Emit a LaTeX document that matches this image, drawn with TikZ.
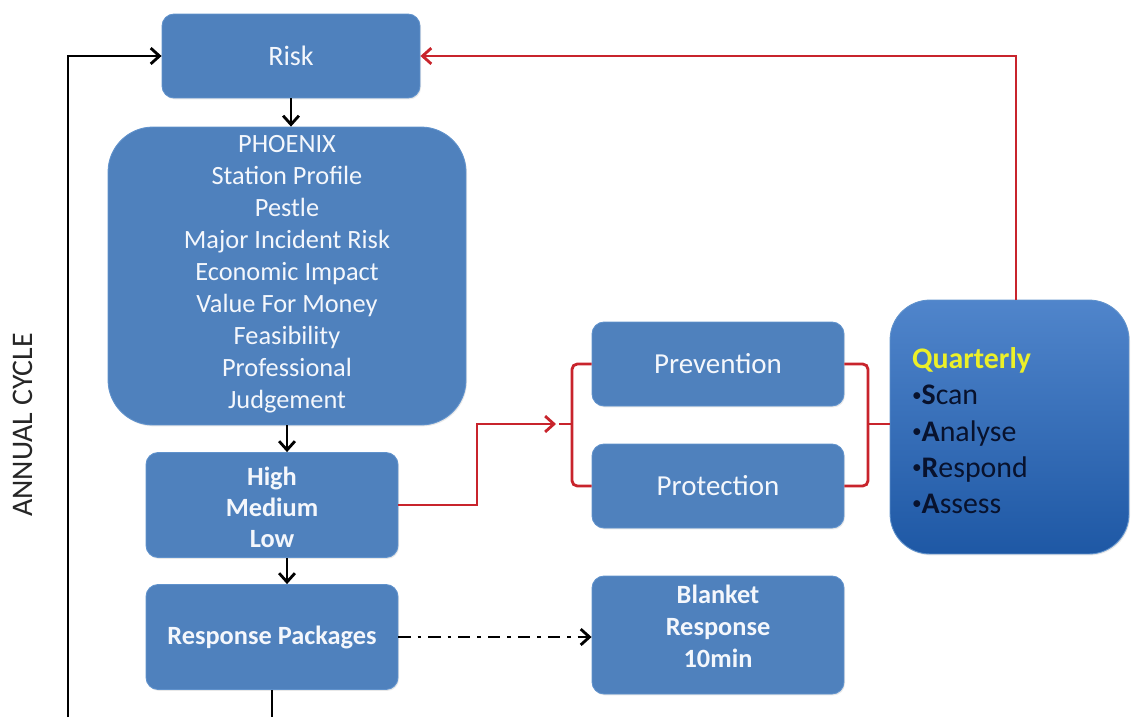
\documentclass[tikz,border=0pt]{standalone}
\usepackage{fontspec}
\setmainfont{Carlito}
\usetikzlibrary{arrows.meta,shadows,positioning}
\definecolor{boxblue}{RGB}{79,129,189}
\definecolor{boxedge}{RGB}{96,146,204}
\definecolor{redline}{RGB}{200,36,44}
\definecolor{qtop}{RGB}{80,133,203}
\definecolor{qbot}{RGB}{30,88,165}
\definecolor{qyellow}{RGB}{236,240,40}
\definecolor{qtext}{RGB}{8,18,45}
\definecolor{boxtext}{RGB}{244,247,252}
\newcommand{\qbul}{\raisebox{0.12em}{\fontsize{11}{11}\selectfont\textbullet}}
\tikzset{
  bluebox/.style={draw=boxedge, line width=0.5pt, fill=boxblue, rounded corners=0.24cm,
    text=boxtext, align=center, inner sep=0pt,
    drop shadow={opacity=0.18, shadow xshift=0.6pt, shadow yshift=-0.8pt}},
  blk/.style={black, line width=1.6pt, -{Straight Barb[length=5pt,width=9pt]}},
  redl/.style={redline, line width=1.6pt},
  reda/.style={redline, line width=1.6pt, -{Straight Barb[length=5pt,width=9pt]}},
}
\begin{document}
\begin{tikzpicture}[x=0.02cm,y=-0.02cm]
\useasboundingbox (0,0) rectangle (1131,717);

\node[bluebox, minimum width=5.16cm, minimum height=1.68cm, font=\fontsize{16}{19}\selectfont] (risk) at (291,56) {Risk};

\node[bluebox, rounded corners=0.9cm, minimum width=7.16cm, minimum height=5.96cm, font=\fontsize{15}{18.2}\selectfont] (phoenix) at (287,276)
 {PHOENIX\\Station Profile\\Pestle\\Major Incident Risk\\Economic Impact\\Value For Money\\Feasibility\\Professional\\Judgement\\[-14pt]\mbox{}};

\node[bluebox, minimum width=5.04cm, minimum height=2.1cm, font=\bfseries\fontsize{15}{17.6}\selectfont] (hml) at (272,505) {High\\Medium\\Low\\[-20pt]\mbox{}};

\node[bluebox, minimum width=5.04cm, minimum height=2.1cm, font=\bfseries\fontsize{15}{18}\selectfont] (resp) at (272,637) {Response Packages};

\node[bluebox, minimum width=5.04cm, minimum height=1.68cm, font=\fontsize{16.5}{19}\selectfont] (prev) at (718,364) {Prevention};

\node[bluebox, minimum width=5.04cm, minimum height=1.68cm, font=\fontsize{16.5}{19}\selectfont] (prot) at (718,486) {Protection};

\node[bluebox, minimum width=5.04cm, minimum height=2.36cm, font=\bfseries\fontsize{15}{18}\selectfont] (blanket) at (718,635) {Blanket\\Response\\10min\\[-8pt]\mbox{}};

\node[draw=boxedge, line width=0.5pt, rounded corners=0.8cm, top color=qtop, bottom color=qbot,
  minimum width=4.78cm, minimum height=5.08cm, inner sep=0pt, text width=3.9cm, align=left,
  text=qtext, font=\fontsize{17}{20.5}\selectfont,
  drop shadow={opacity=0.18, shadow xshift=0.6pt, shadow yshift=-0.8pt}] (quart) at (1009.5,427)
 {\textcolor{qyellow}{\bfseries Quarterly}\\
  \qbul\textbf{S}can\\
  \qbul\textbf{A}nalyse\\
  \qbul\textbf{R}espond\\
  \qbul\textbf{A}ssess\\[-24.5pt]\mbox{}};

\node[rotate=90, font=\fontsize{17}{20}\selectfont, text=black!85] (annual) at (23,425) {ANNUAL CYCLE};

% black connectors
\draw[blk] (risk.south) -- (risk.south |- phoenix.north);
\draw[blk] (phoenix.south) -- (phoenix.south |- hml.north);
\draw[blk] (phoenix.south |- hml.south) -- (phoenix.south |- resp.north);
\coordinate (lbot) at (68,717);
\coordinate (rbot) at (272,717);
\draw[blk] (lbot) -- (68,56) -- (risk.west);
\draw[black, line width=1.6pt] (resp.south) -- (rbot);
\draw[black, line width=1.6pt, dash pattern=on 7pt off 4pt on 2pt off 4pt, -{Straight Barb[length=5pt,width=9pt]}] (resp.east) -- (blanket.west |- resp.east);

% red connectors
\coordinate (lbr) at (572,424);
\coordinate (rbr) at (868,424);
\draw[reda] (hml.east) -- (477,505) -- (477,424) -- (556,424);
\draw[redl, rounded corners=3pt] (prev.west) -- (prev.west -| lbr) -- (prot.west -| lbr) -- (prot.west);
\draw[redl] (559,424) -- (lbr);
\draw[redl, rounded corners=3pt] (prev.east) -- (prev.east -| rbr) -- (prot.east -| rbr) -- (prot.east);
\draw[redl] (rbr) -- (quart.west |- rbr);
\draw[reda] (1016,300) -- (1016,56) -- (risk.east);
\end{tikzpicture}
\end{document}
